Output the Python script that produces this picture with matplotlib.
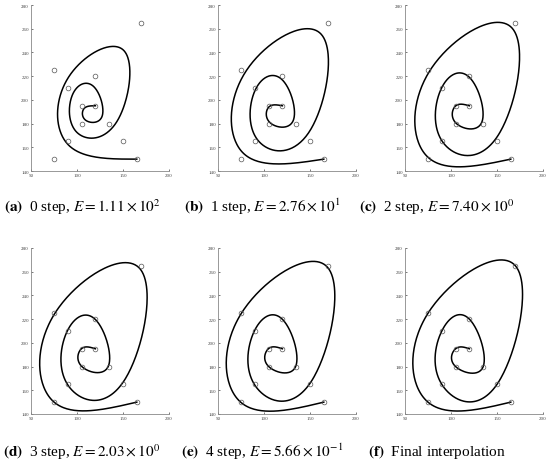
import numpy as np
import matplotlib
matplotlib.use('Agg')
import matplotlib.pyplot as plt

# data points (in order along the spiral)
pts_x = [165, 75, 75, 170, 150, 90, 90, 120, 135, 105, 105, 120]
pts_y = [150, 150, 225, 265, 165, 165, 210, 220, 180, 180, 195, 195]

captions = [
    r'$\mathbf{(a)}$  0 step, $E = 1.11 \times 10^{2}$',
    r'$\mathbf{(b)}$  1 step, $E = 2.76 \times 10^{1}$',
    r'$\mathbf{(c)}$  2 step, $E = 7.40 \times 10^{0}$',
    r'$\mathbf{(d)}$  3 step, $E = 2.03 \times 10^{0}$',
    r'$\mathbf{(e)}$  4 step, $E = 5.66 \times 10^{-1}$',
    r'$\mathbf{(f)}$  Final interpolation',
]
steps = [0, 1, 2, 3, 4, None]

xticks = [50, 100, 150, 200]
yticks = [140, 160, 180, 200, 220, 240, 260, 280]

plt.rcParams['font.family'] = 'Liberation Serif'
plt.rcParams['mathtext.fontset'] = 'stix'

Q = np.column_stack([pts_x, pts_y]).astype(float)
n = len(Q)

# uniform cubic B-spline, phantom end points P[-1] = 2P0 - P1 (natural ends)
T = np.zeros((n + 2, n))
T[1:n + 1] = np.eye(n)
T[0, 0], T[0, 1] = 2, -1
T[n + 1, n - 1], T[n + 1, n - 2] = 2, -1

# collocation matrix at the knots
A = np.zeros((n, n + 2))
for i in range(n):
    A[i, i:i + 3] = [1 / 6, 4 / 6, 1 / 6]
A = A @ T

# evaluation matrix along the curve
s = np.linspace(0, 1, 60, endpoint=False)
rows = []
for seg in range(n - 1):
    for si in s:
        r = np.zeros(n + 2)
        r[seg:seg + 4] = [(1 - si) ** 3, 3 * si ** 3 - 6 * si ** 2 + 4,
                          -3 * si ** 3 + 3 * si ** 2 + 3 * si + 1, si ** 3]
        rows.append(r / 6)
r = np.zeros(n + 2)
r[n - 1:n + 2] = [1 / 6, 4 / 6, 1 / 6]
rows.append(r)
B = np.array(rows) @ T


def ctrl(k):
    # progressive iterative approximation, k steps (None = exact interpolation)
    if k is None:
        return np.linalg.solve(A, Q)
    P = Q.copy()
    for _ in range(k):
        P = P + (Q - A @ P)
    return P


fig = plt.figure(figsize=(5.5, 4.64), dpi=100)
lefts = [31, 218, 405]
tops = [6, 249]
w, h = 138, 166

for idx in range(6):
    r, c = divmod(idx, 3)
    ax = fig.add_axes([lefts[c] / 550, 1 - (tops[r] + h) / 464, w / 550, h / 464])
    P = ctrl(steps[idx])
    curve = B @ P
    ax.plot(curve[:, 0], curve[:, 1], color='black', lw=1.1)
    ax.plot(pts_x, pts_y, 'o', ms=3.4, mfc='none', mec='#555555', mew=0.5)
    ax.set_xlim(50, 200)
    ax.set_ylim(140, 280)
    ax.set_xticks(xticks)
    ax.set_yticks(yticks)
    ax.tick_params(direction='in', length=1.5, width=0.5, labelsize=3.6,
                   colors='#444444', pad=1.5)
    for sp in ['top', 'right']:
        ax.spines[sp].set_visible(False)
    for sp in ['left', 'bottom']:
        ax.spines[sp].set_color('#888888')
        ax.spines[sp].set_linewidth(0.6)
    cx = [82, 262, 437][c]
    cy = [207, 452][r]
    fig.text(cx / 550, 1 - cy / 464, captions[idx], ha='center', va='center',
             fontsize=11)

fig.savefig('out.png', dpi=100)
